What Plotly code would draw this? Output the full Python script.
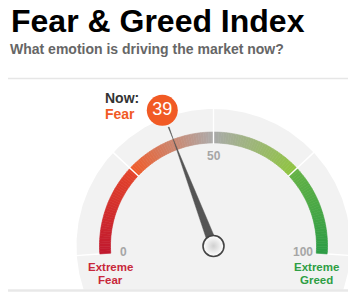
import numpy as np
import plotly.graph_objects as go

# ---------------- data ----------------
title = "Fear & Greed Index"
subtitle = "What emotion is driving the market now?"
value = 39
rating = "Fear"
now_label = "Now:"
tick_values = [0, 50, 100]
tick_labels = ["0", "50", "100"]
zone_edges = [0, 25, 50, 75, 100]
zone_start_colors = ["#c0182e", "#f05a28", "#a9a9a9", "#64b245"]
zone_end_colors = ["#e4442a", "#acacac", "#8fc440", "#2c9c45"]
end_values = [0, 100]
end_labels = [["Extreme", "Fear"], ["Extreme", "Greed"]]
end_colors = ["#c8283a", "#2e9e44"]

# ---------------- geometry ----------------
W, H = 348, 299
cx, cy = 213.5, 246.0
R_BG, R_OUT, R_IN = 137.0, 114.0, 103.0
EXT = 4.0  # degrees the scale extends below horizontal at each end
SCALE_MIN, SCALE_MAX = 0.0, 100.0
FONT = "Liberation Sans, Arial, sans-serif"


def ang(v):
    frac = (v - SCALE_MIN) / (SCALE_MAX - SCALE_MIN)
    return np.radians(180 + EXT - frac * (180 + 2 * EXT))


def pt(v, r):
    a = ang(v)
    return cx + r * np.cos(a), cy - r * np.sin(a)


def hex2rgb(h):
    h = h.lstrip("#")
    return np.array([int(h[i:i + 2], 16) for i in (0, 2, 4)], dtype=float)


def mix(c1, c2, t):
    c = hex2rgb(c1) * (1 - t) + hex2rgb(c2) * t
    return "rgb(%d,%d,%d)" % tuple(np.round(c).astype(int))


fig = go.Figure()

# background disc (clipped at the bottom rule)
th = np.linspace(0, 2 * np.pi, 400)
bx = cx + R_BG * np.cos(th)
by = np.minimum(cy - R_BG * np.sin(th), 289.5)
fig.add_trace(go.Scatter(x=bx, y=by, mode="lines", fill="toself",
                         fillcolor="#f2f2f2", line=dict(width=0),
                         hoverinfo="skip", showlegend=False))

# gradient arc
N = 36
for z in range(len(zone_edges) - 1):
    v0, v1 = zone_edges[z], zone_edges[z + 1]
    vs = np.linspace(v0, v1, N + 1)
    for i in range(N):
        a, b = vs[i], vs[i + 1]
        sub = np.linspace(a, b, 3)
        ox, oy = pt(sub, R_OUT)
        ix, iy = pt(sub[::-1], R_IN)
        col = mix(zone_start_colors[z], zone_end_colors[z], (i + 0.5) / N)
        fig.add_trace(go.Scatter(x=np.r_[ox, ix, ox[0]], y=np.r_[oy, iy, oy[0]],
                                 mode="lines", fill="toself", fillcolor=col,
                                 line=dict(width=0.6, color=col),
                                 hoverinfo="skip", showlegend=False))

# white separators
for v in zone_edges:
    r0 = R_OUT + 0.5 if v in (SCALE_MIN, SCALE_MAX) else R_IN - 1
    x0, y0 = pt(v, r0)
    x1, y1 = pt(v, R_BG + 1)
    fig.add_trace(go.Scatter(x=[x0, x1], y=[y0, y1], mode="lines",
                             line=dict(color="white", width=1.4),
                             hoverinfo="skip", showlegend=False))

# needle
a = ang(value)
tipx, tipy = pt(value, 127)
px, py = -np.sin(a), -np.cos(a)  # perpendicular (screen coords)
hw = 4.5
fig.add_trace(go.Scatter(
    x=[cx + hw * px, tipx - 0.5 * px, tipx + 0.5 * px, cx - hw * px, cx + hw * px],
    y=[cy + hw * py, tipy - 0.5 * py, tipy + 0.5 * py, cy - hw * py, cy + hw * py],
    mode="lines", fill="toself", fillcolor="#555555", line=dict(width=0.5, color="#555555"),
    hoverinfo="skip", showlegend=False))

# pivot
fig.add_trace(go.Scatter(x=[cx], y=[cy], mode="markers",
                         marker=dict(size=21, color="#ffffff",
                                     gradient=dict(type="radial", color="#d0d0d0"),
                                     line=dict(color="#444444", width=1.6)),
                         hoverinfo="skip", showlegend=False))

# value bubble
vbx, vby = pt(value, 145)
fig.add_trace(go.Scatter(x=[vbx], y=[vby], mode="markers+text",
                         marker=dict(size=31, color="#f15a24", line=dict(width=0)),
                         text=[str(value)], textposition="middle center",
                         textfont=dict(family=FONT, size=18, color="white"),
                         hoverinfo="skip", showlegend=False))

annotations = []
annotations.append(dict(x=vbx - 59, y=vby - 12, text="<b>%s</b>" % now_label, showarrow=False,
                        xanchor="left", yanchor="middle",
                        font=dict(family=FONT, size=14, color="#333333")))
annotations.append(dict(x=vbx - 59, y=vby + 4, text="<b>%s</b>" % rating, showarrow=False,
                        xanchor="left", yanchor="middle",
                        font=dict(family=FONT, size=14, color="#f15a24")))

# tick labels
for v, lab in zip(tick_values, tick_labels):
    tx, ty = pt(v, 90)
    annotations.append(dict(x=tx, y=ty, text="<b>%s</b>" % lab, showarrow=False,
                            xanchor="center", yanchor="middle",
                            font=dict(family=FONT, size=12, color="#a6a6a6")))

# end labels
for v, lines, col in zip(end_values, end_labels, end_colors):
    ex, _ = pt(v, R_IN)
    for k, line in enumerate(lines):
        annotations.append(dict(x=ex, y=267 + 12.5 * k, text="<b>%s</b>" % line,
                                showarrow=False, xanchor="center", yanchor="middle",
                                font=dict(family=FONT, size=11.5, color=col)))

# title and subtitle
annotations.append(dict(x=9, y=21, text="<b>%s</b>" % title, showarrow=False,
                        xanchor="left", yanchor="middle",
                        font=dict(family=FONT, size=32, color="#000000")))
annotations.append(dict(x=8, y=49, text="<b>%s</b>" % subtitle, showarrow=False,
                        xanchor="left", yanchor="middle",
                        font=dict(family=FONT, size=14, color="#666666")))

shapes = [
    dict(type="line", xref="x", yref="y", x0=8, x1=W, y0=78.5, y1=78.5,
         line=dict(color="#e6e6e6", width=1.5)),
    dict(type="line", xref="x", yref="y", x0=8, x1=W, y0=290.5, y1=290.5,
         line=dict(color="#e8e8e8", width=2.5)),
]

fig.update_layout(
    width=W, height=H, margin=dict(l=0, r=0, t=0, b=0),
    paper_bgcolor="white", plot_bgcolor="white",
    xaxis=dict(range=[0, W], visible=False, fixedrange=True),
    yaxis=dict(range=[H, 0], visible=False, fixedrange=True),
    annotations=annotations, shapes=shapes, showlegend=False,
)

fig.write_html("out.html")
